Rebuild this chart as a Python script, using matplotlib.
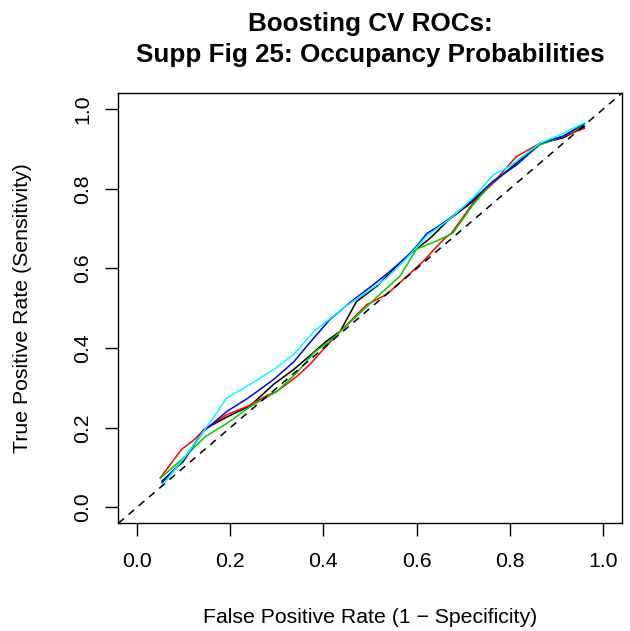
import matplotlib
matplotlib.use("Agg")
import matplotlib.pyplot as plt

plt.rcParams['font.family'] = ['Liberation Sans', 'DejaVu Sans']

title_line1 = "Boosting CV ROCs:"
title_line2 = "Supp Fig 25: Occupancy Probabilities"
x_label = "False Positive Rate (1 \u2212 Specificity)"
y_label = "True Positive Rate (Sensitivity)"
tick_values = [0.0, 0.2, 0.4, 0.6, 0.8, 1.0]
tick_labels = ["0.0", "0.2", "0.4", "0.6", "0.8", "1.0"]

fpr_black = [0.054, 0.100, 0.143, 0.193, 0.243, 0.293, 0.336, 0.371, 0.407, 0.436, 0.471,
             0.514, 0.543, 0.579, 0.629, 0.667, 0.721, 0.764, 0.814, 0.864, 0.914, 0.960]
tpr_black = [0.066, 0.116, 0.195, 0.227, 0.255, 0.309, 0.346, 0.381, 0.418, 0.442, 0.517,
             0.555, 0.589, 0.630, 0.676, 0.720, 0.769, 0.815, 0.865, 0.914, 0.928, 0.956]

fpr_red = [0.050, 0.096, 0.121, 0.146, 0.193, 0.236, 0.279, 0.300, 0.343, 0.371, 0.393, 0.436,
           0.493, 0.536, 0.579, 0.614, 0.657, 0.675, 0.721, 0.764, 0.814, 0.864, 0.914, 0.960]
tpr_red = [0.074, 0.146, 0.168, 0.197, 0.233, 0.253, 0.281, 0.291, 0.329, 0.359, 0.388, 0.442,
           0.509, 0.535, 0.580, 0.618, 0.672, 0.689, 0.764, 0.815, 0.881, 0.914, 0.932, 0.952]

fpr_green = [0.050, 0.100, 0.146, 0.193, 0.243, 0.300, 0.343, 0.380, 0.422, 0.471, 0.521,
             0.564, 0.600, 0.643, 0.678, 0.721, 0.764, 0.814, 0.864, 0.914, 0.960]
tpr_green = [0.073, 0.124, 0.177, 0.211, 0.253, 0.291, 0.338, 0.389, 0.426, 0.480, 0.535,
             0.580, 0.649, 0.669, 0.689, 0.760, 0.819, 0.860, 0.910, 0.932, 0.960]

fpr_blue = [0.054, 0.100, 0.143, 0.193, 0.239, 0.293, 0.336, 0.371, 0.414, 0.464, 0.507, 0.543,
            0.579, 0.600, 0.622, 0.643, 0.671, 0.721, 0.764, 0.814, 0.864, 0.914, 0.960]
tpr_blue = [0.062, 0.120, 0.191, 0.241, 0.275, 0.321, 0.365, 0.414, 0.472, 0.521, 0.559, 0.593,
            0.630, 0.656, 0.688, 0.703, 0.726, 0.773, 0.819, 0.860, 0.914, 0.932, 0.964]

fpr_cyan = [0.054, 0.100, 0.143, 0.193, 0.243, 0.293, 0.336, 0.380, 0.443, 0.486, 0.536,
            0.579, 0.622, 0.671, 0.721, 0.764, 0.793, 0.814, 0.864, 0.914, 0.960]
tpr_cyan = [0.055, 0.122, 0.191, 0.275, 0.309, 0.346, 0.384, 0.442, 0.501, 0.535, 0.576,
            0.626, 0.682, 0.724, 0.777, 0.835, 0.852, 0.869, 0.914, 0.939, 0.966]

W, H = 630, 631
fig = plt.figure(figsize=(W / 100, H / 100), dpi=100)
ax_l, ax_r, ax_t, ax_b = 118.3, 621.7, 93.3, 523.3
ax = fig.add_axes([ax_l / W, 1 - ax_b / H, (ax_r - ax_l) / W, (ax_b - ax_t) / H])

lw = 1.1
series = [
    (fpr_black, tpr_black, "black"),
    (fpr_red, tpr_red, "#FF0000"),
    (fpr_green, tpr_green, "#00CD00"),
    (fpr_blue, tpr_blue, "#0000FF"),
    (fpr_cyan, tpr_cyan, "#00FFFF"),
]
for xs, ys, c in series:
    ax.plot(xs, ys, color=c, lw=lw, solid_joinstyle='round')

diag = ax.axline((0, 0), (1, 1), color="black", lw=lw)
diag.set_dashes([4.8, 4.0])

ax.set_xlim(-0.04, 1.04)
ax.set_ylim(-0.04, 1.04)
ax.set_xticks(tick_values)
ax.set_xticklabels(tick_labels)
ax.set_yticks(tick_values)
ax.set_yticklabels(tick_labels, rotation=90, va='center')
for s in ax.spines.values():
    s.set_linewidth(1.0)
ax.tick_params(axis='both', direction='out', length=9.4, width=1.0, labelsize=15.3, colors='black')
ax.tick_params(axis='x', pad=11.0)
ax.tick_params(axis='y', pad=9.5)

fig.text(23 / W, 1 - 308.3 / H, y_label, rotation=90, ha='center', va='center', fontsize=15.3)
fig.text(370 / W, 1 - 617.6 / H, x_label, ha='center', va='center', fontsize=15.3)
fig.text(370 / W, 1 - 31 / H, title_line1, ha='center', va='baseline', fontsize=18.7, fontweight='bold')
fig.text(370 / W, 1 - 62 / H, title_line2, ha='center', va='baseline', fontsize=18.7, fontweight='bold')

fig.savefig("out.png", dpi=100)
